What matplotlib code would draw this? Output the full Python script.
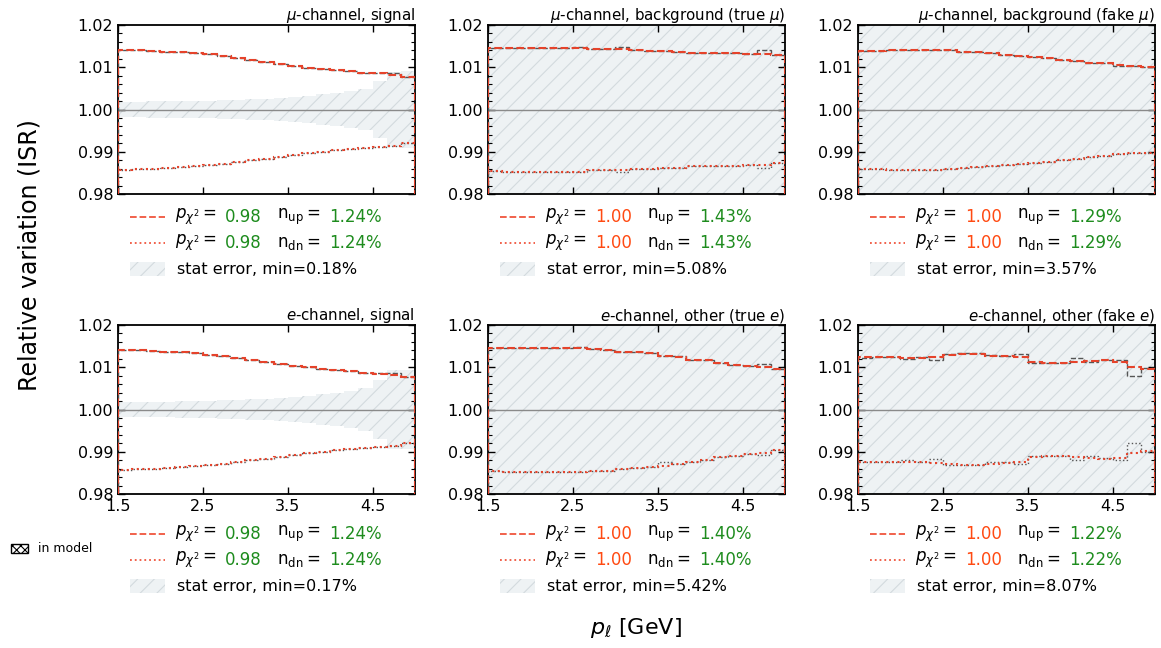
import numpy as np
import matplotlib
matplotlib.use('Agg')
from matplotlib import pyplot as plt
from matplotlib.patches import Rectangle, Patch
from matplotlib.ticker import MultipleLocator, FixedLocator

# bin edges in p_l [GeV] (21 bins of 1/6 GeV)
edges = [1.5, 1.667, 1.833, 2.0, 2.167, 2.333, 2.5, 2.667, 2.833, 3.0, 3.167,
         3.333, 3.5, 3.667, 3.833, 4.0, 4.167, 4.333, 4.5, 4.667, 4.833, 5.0]

titles = [r'$\mu$-channel, signal', r'$\mu$-channel, background (true $\mu$)',
          r'$\mu$-channel, background (fake $\mu$)',
          r'$e$-channel, signal', r'$e$-channel, other (true $e$)',
          r'$e$-channel, other (fake $e$)']

# fitted (smoothed) variations, red
fit_up = [
    [1.0142, 1.0141, 1.0139, 1.0137, 1.0135, 1.0133, 1.0131, 1.0126, 1.0121, 1.0117, 1.0112,
     1.0108, 1.0104, 1.0099, 1.0096, 1.0093, 1.0090, 1.0087, 1.0086, 1.0082, 1.0078],
    [1.0145, 1.0145, 1.0146, 1.0146, 1.0146, 1.0146, 1.0145, 1.0144, 1.0143, 1.0143, 1.0140,
     1.0139, 1.0138, 1.0137, 1.0134, 1.0133, 1.0133, 1.0133, 1.0132, 1.0131, 1.0128],
    [1.0139, 1.0139, 1.0142, 1.0142, 1.0142, 1.0141, 1.0140, 1.0137, 1.0136, 1.0134, 1.0128,
     1.0126, 1.0124, 1.0123, 1.0117, 1.0115, 1.0111, 1.0110, 1.0105, 1.0102, 1.0101],
    [1.0141, 1.0141, 1.0139, 1.0137, 1.0135, 1.0133, 1.0130, 1.0126, 1.0121, 1.0117, 1.0112,
     1.0108, 1.0104, 1.0100, 1.0096, 1.0093, 1.0090, 1.0087, 1.0085, 1.0081, 1.0076],
    [1.0145, 1.0146, 1.0146, 1.0146, 1.0146, 1.0146, 1.0145, 1.0143, 1.0141, 1.0137, 1.0136,
     1.0133, 1.0127, 1.0124, 1.0118, 1.0116, 1.0109, 1.0105, 1.0103, 1.0101, 1.0095],
    [1.0124, 1.0124, 1.0125, 1.0123, 1.0123, 1.0124, 1.0130, 1.0131, 1.0131, 1.0127, 1.0127,
     1.0125, 1.0113, 1.0110, 1.0111, 1.0112, 1.0114, 1.0116, 1.0112, 1.0101, 1.0097],
]
fit_dn = [
    [0.9857, 0.9858, 0.9860, 0.9862, 0.9864, 0.9866, 0.9869, 0.9872, 0.9876, 0.9880, 0.9884,
     0.9888, 0.9892, 0.9896, 0.9900, 0.9904, 0.9907, 0.9910, 0.9912, 0.9913, 0.9920],
    [0.9855, 0.9853, 0.9853, 0.9853, 0.9853, 0.9853, 0.9853, 0.9856, 0.9857, 0.9857, 0.9858,
     0.9860, 0.9861, 0.9862, 0.9866, 0.9867, 0.9867, 0.9867, 0.9868, 0.9868, 0.9873],
    [0.9859, 0.9859, 0.9857, 0.9857, 0.9857, 0.9857, 0.9858, 0.9861, 0.9863, 0.9866, 0.9868,
     0.9871, 0.9874, 0.9876, 0.9881, 0.9883, 0.9887, 0.9890, 0.9894, 0.9896, 0.9898],
    [0.9857, 0.9858, 0.9860, 0.9862, 0.9864, 0.9866, 0.9869, 0.9872, 0.9876, 0.9880, 0.9884,
     0.9888, 0.9892, 0.9896, 0.9900, 0.9904, 0.9907, 0.9910, 0.9912, 0.9914, 0.9921],
    [0.9855, 0.9853, 0.9853, 0.9853, 0.9853, 0.9853, 0.9853, 0.9854, 0.9855, 0.9859, 0.9861,
     0.9863, 0.9867, 0.9871, 0.9876, 0.9880, 0.9887, 0.9891, 0.9894, 0.9896, 0.9903],
    [0.9875, 0.9875, 0.9876, 0.9876, 0.9875, 0.9874, 0.9870, 0.9869, 0.9868, 0.9872, 0.9873,
     0.9875, 0.9887, 0.9890, 0.9889, 0.9887, 0.9885, 0.9884, 0.9885, 0.9896, 0.9902],
]

# raw variations, grey
raw_up = [
    [1.0142, 1.0141, 1.0139, 1.0137, 1.0135, 1.0133, 1.0131, 1.0126, 1.0121, 1.0117, 1.0112,
     1.0108, 1.0104, 1.0099, 1.0096, 1.0093, 1.0090, 1.0087, 1.0087, 1.0087, 1.0078],
    [1.0145, 1.0145, 1.0146, 1.0146, 1.0146, 1.0146, 1.0149, 1.0144, 1.0143, 1.0148, 1.0140,
     1.0139, 1.0138, 1.0137, 1.0134, 1.0133, 1.0133, 1.0133, 1.0132, 1.0142, 1.0128],
    [1.0139, 1.0139, 1.0142, 1.0142, 1.0142, 1.0141, 1.0140, 1.0137, 1.0136, 1.0134, 1.0128,
     1.0126, 1.0124, 1.0123, 1.0117, 1.0115, 1.0111, 1.0110, 1.0103, 1.0102, 1.0101],
    [1.0141, 1.0141, 1.0139, 1.0137, 1.0135, 1.0133, 1.0130, 1.0126, 1.0121, 1.0117, 1.0112,
     1.0108, 1.0104, 1.0100, 1.0096, 1.0093, 1.0090, 1.0087, 1.0087, 1.0086, 1.0076],
    [1.0145, 1.0146, 1.0146, 1.0146, 1.0146, 1.0146, 1.0148, 1.0143, 1.0141, 1.0137, 1.0136,
     1.0133, 1.0127, 1.0126, 1.0118, 1.0116, 1.0109, 1.0105, 1.0103, 1.0108, 1.0095],
    [1.0123, 1.0125, 1.0125, 1.0119, 1.0124, 1.0117, 1.0132, 1.0133, 1.0133, 1.0128, 1.0127,
     1.0132, 1.0111, 1.0110, 1.0111, 1.0123, 1.0113, 1.0116, 1.0118, 1.0080, 1.0098],
]
raw_dn = [
    [0.9857, 0.9858, 0.9860, 0.9862, 0.9864, 0.9866, 0.9869, 0.9872, 0.9876, 0.9880, 0.9884,
     0.9888, 0.9892, 0.9896, 0.9900, 0.9904, 0.9907, 0.9910, 0.9912, 0.9913, 0.9920],
    [0.9855, 0.9853, 0.9853, 0.9853, 0.9853, 0.9853, 0.9853, 0.9856, 0.9857, 0.9852, 0.9858,
     0.9860, 0.9861, 0.9862, 0.9866, 0.9867, 0.9867, 0.9867, 0.9868, 0.9861, 0.9873],
    [0.9859, 0.9859, 0.9857, 0.9857, 0.9857, 0.9857, 0.9858, 0.9861, 0.9863, 0.9866, 0.9868,
     0.9871, 0.9874, 0.9876, 0.9881, 0.9883, 0.9887, 0.9890, 0.9894, 0.9896, 0.9898],
    [0.9857, 0.9858, 0.9860, 0.9862, 0.9864, 0.9866, 0.9869, 0.9872, 0.9876, 0.9880, 0.9884,
     0.9888, 0.9892, 0.9896, 0.9900, 0.9904, 0.9907, 0.9910, 0.9912, 0.9914, 0.9921],
    [0.9855, 0.9853, 0.9853, 0.9853, 0.9853, 0.9853, 0.9853, 0.9854, 0.9855, 0.9859, 0.9861,
     0.9863, 0.9876, 0.9871, 0.9876, 0.9880, 0.9887, 0.9891, 0.9894, 0.9892, 0.9903],
    [0.9875, 0.9876, 0.9876, 0.9881, 0.9875, 0.9884, 0.9869, 0.9868, 0.9868, 0.9875, 0.9875,
     0.9870, 0.9891, 0.9891, 0.9891, 0.9880, 0.9891, 0.9885, 0.9881, 0.9920, 0.9900],
]

# stat error half width per bin (signal panels); others only min given
stat_hw = [
    [0.0018, 0.0018, 0.0019, 0.0019, 0.0020, 0.0020, 0.0021, 0.0022, 0.0023, 0.0024, 0.0026,
     0.0028, 0.0030, 0.0033, 0.0036, 0.0040, 0.0043, 0.0048, 0.0068, 0.0089, 0.0090],
    None, None,
    [0.0017, 0.0017, 0.0018, 0.0018, 0.0019, 0.0020, 0.0021, 0.0022, 0.0023, 0.0024, 0.0026,
     0.0028, 0.0030, 0.0033, 0.0036, 0.0040, 0.0044, 0.0050, 0.0070, 0.0093, 0.0094],
    None, None,
]
stat_min = [0.18, 5.08, 3.57, 0.17, 5.42, 8.07]
p_chi2 = [0.98, 1.00, 1.00, 0.98, 1.00, 1.00]
n_var = [1.24, 1.43, 1.29, 1.24, 1.40, 1.22]

red = '#e5432b'
green = '#1e8c1e'
orange = '#ff4a12'
band_fc = '#eef2f4'
band_hc = '#d3dade'
plt.rcParams['hatch.linewidth'] = 0.8

fig = plt.figure(figsize=(11.61, 6.48), dpi=100)
lefts = [118 / 1161, 488 / 1161, 858 / 1161]
bottoms = [1 - 194 / 648, 1 - 494 / 648]
w = 297 / 1161
h = 169 / 648

for i in range(6):
    r, c = divmod(i, 3)
    ax = fig.add_axes([lefts[c], bottoms[r], w, h])
    x0, x1 = edges[0], edges[-1]

    if stat_hw[i] is not None:
        hw = np.array(stat_hw[i])
        ax.stairs(1 + hw, edges, baseline=1 - hw, fill=True, facecolor=band_fc,
                  edgecolor=band_hc, hatch='//', linewidth=0, zorder=1)
    else:
        m = stat_min[i] / 100
        ax.fill_between([x0, x1], 1 - m, 1 + m, facecolor=band_fc, edgecolor=band_hc,
                        hatch='//', linewidth=0, zorder=1)

    ax.axhline(1.0, color='#8a8a8a', lw=1.0, zorder=2)
    ax.stairs(raw_up[i], edges, color='#555555', ls='--', lw=1.0, zorder=3)
    ax.stairs(raw_dn[i], edges, color='#555555', ls=':', lw=1.0, zorder=3)
    ax.stairs(fit_up[i], edges, color=red, ls='--', lw=1.5, zorder=4)
    ax.stairs(fit_dn[i], edges, color=red, ls=':', lw=1.5, zorder=4)

    ax.set_xlim(x0, x1)
    ax.set_ylim(0.98, 1.02)
    ax.xaxis.set_major_locator(FixedLocator([1.5, 2.5, 3.5, 4.5]))
    ax.yaxis.set_major_locator(MultipleLocator(0.01))
    ax.yaxis.set_minor_locator(MultipleLocator(0.002))
    ax.yaxis.set_major_formatter(matplotlib.ticker.FormatStrFormatter('%.2f'))
    ax.tick_params(which='both', direction='in', top=True, right=True, labelsize=11.5)
    ax.tick_params(which='major', length=5, width=1)
    ax.tick_params(which='minor', length=3, width=0.8)
    if r == 0:
        ax.set_xticklabels([])
    for s in ax.spines.values():
        s.set_linewidth(1.3)
    ax.set_title(titles[i], loc='right', fontsize=10.8, pad=3)

    # legend below the panel
    if r == 0:
        rows = [-0.136, -0.29, -0.444]
    else:
        rows = [-0.237, -0.391, -0.545]
    ax.plot([0.04, 0.158], [rows[0]] * 2, transform=ax.transAxes, clip_on=False,
            color='#f0553d', ls='--', lw=1.3)
    ax.plot([0.04, 0.158], [rows[1]] * 2, transform=ax.transAxes, clip_on=False,
            color='#f0553d', ls=':', lw=1.3)
    ax.add_patch(Rectangle((0.04, rows[2] - 0.04), 0.118, 0.08, transform=ax.transAxes,
                           clip_on=False, facecolor=band_fc, edgecolor=band_hc,
                           hatch='//', linewidth=0))
    pcol = green if p_chi2[i] < 0.995 else orange
    for k, tag in enumerate(['up', 'dn']):
        y = rows[k]
        ax.text(0.192, y, r'$p_{\chi^2} =$', transform=ax.transAxes, va='center', fontsize=12)
        ax.text(0.36, y, '%.2f' % p_chi2[i], transform=ax.transAxes, va='center',
                fontsize=12, color=pcol)
        ax.text(0.535, y, r'$\mathrm{n}_{\mathrm{%s}} =$' % tag, transform=ax.transAxes,
                va='center', fontsize=12)
        ax.text(0.712, y, '%.2f%%' % n_var[i], transform=ax.transAxes, va='center',
                fontsize=12, color=green)
    ax.text(0.197, rows[2], 'stat error, min=%.2f%%' % stat_min[i], transform=ax.transAxes,
            va='center', fontsize=11.5)

fig.text(30 / 1161, 1 - 255 / 648, 'Relative variation (ISR)', rotation=90,
         ha='center', va='center', fontsize=17)
fig.text(636 / 1161, 1 - 628 / 648, r'$p_\ell$ [GeV]', ha='center', va='center', fontsize=16)

fig.legend(handles=[Patch(facecolor='white', edgecolor='black', hatch='xxxx', lw=1.0)],
           labels=['in model'], loc='center left', bbox_to_anchor=(0.0, 1 - 549 / 648),
           frameon=False, fontsize=9, handlelength=1.3, handleheight=0.7, handletextpad=0.8)

fig.savefig('out.png', dpi=100)
